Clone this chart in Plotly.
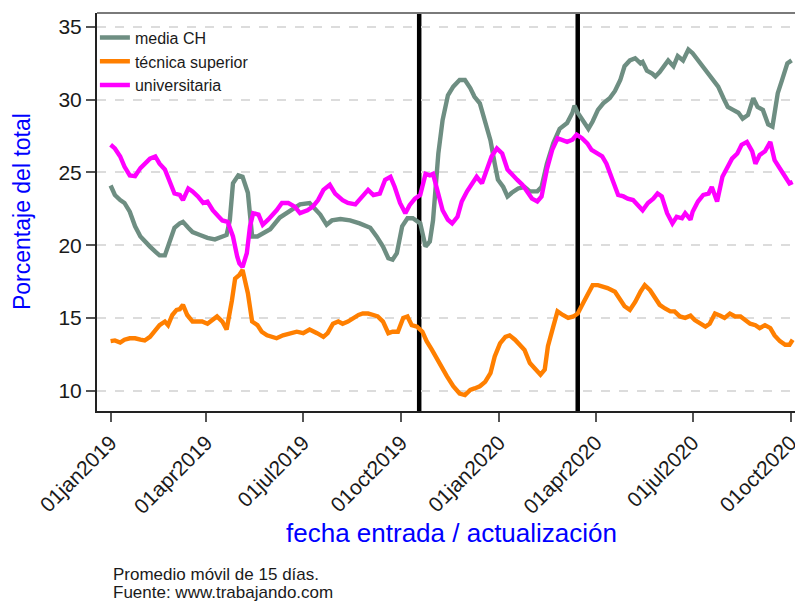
import pandas as pd
import plotly.graph_objects as go

# ---- data ----
base_date = "2019-01-01"

days_media = [0,4,9,13,18,23,28,32,37,42,46,51,56,60,65,68,73,77,84,91,98,105,109,112,115,120,124,129,133,138,
              143,150,159,169,178,187,192,197,203,208,216,225,234,244,250,256,261,265,269,274,279,284,291,296,300,303,308,312,317,322,
              328,333,338,342,347,352,357,361,364,369,373,377,383,389,394,401,405,410,416,422,429,434,436,439,444,449,453,458,463,469,
              474,479,483,488,493,498,500,504,509,512,516,521,524,529,533,538,543,547,552,557,562,566,571,576,580,585,590,594,599,604,
              608,613,618,622,624,627,631,636,640]
vals_media = [24.1,23.45,23.1,22.9,22.3,21.3,20.6,20.25,19.9,19.55,19.3,19.3,20.4,21.2,21.5,21.6,21.2,20.9,20.7,20.5,
              20.4,20.6,20.7,21.7,24.25,24.8,24.7,23.6,20.6,20.6,20.8,21.1,21.9,22.4,22.8,22.9,22.5,22.1,21.4,21.7,
              21.8,21.7,21.5,21.2,20.6,19.9,19.1,19.0,19.45,21.3,21.85,21.85,21.5,19.9,20.25,21.7,26.3,28.6,30.3,30.9,
              31.35,31.35,30.8,30.2,29.75,28.4,27.2,25.6,24.5,24.0,23.35,23.6,23.9,24.0,23.7,23.7,24.0,25.6,27.0,28.0,
              28.4,29.1,29.6,29.1,28.6,28.0,28.5,29.3,29.75,30.1,30.6,31.35,32.3,32.7,32.85,32.5,32.6,32.0,31.8,31.6,
              31.9,32.4,32.7,32.3,33.0,32.7,33.45,33.2,32.7,32.3,31.7,31.35,30.9,30.1,29.5,29.3,29.1,28.7,28.95,30.1,
              29.5,29.3,28.3,28.15,29.1,30.45,31.35,32.5,32.7]

days_tec = [0,4,9,13,18,23,28,32,37,42,46,51,54,58,62,65,68,72,77,81,86,91,95,100,105,109,114,117,121,124,
            129,133,138,142,147,153,156,162,169,175,181,187,194,200,204,209,214,218,223,228,233,237,242,247,251,256,261,265,270,275,
            279,283,288,293,297,302,307,311,316,322,328,333,338,342,347,352,357,361,366,371,375,380,385,389,394,399,404,408,411,416,
            420,425,430,435,439,444,449,453,458,463,467,474,479,483,488,493,498,502,507,512,516,521,526,530,535,540,545,549,554,559,
            563,568,573,577,582,587,592,596,601,606,610,615,620,624,629,634,638,641]
vals_tec = [13.4,13.45,13.3,13.5,13.6,13.6,13.5,13.45,13.7,14.2,14.5,14.75,14.5,15.2,15.55,15.6,15.9,15.2,14.75,14.75,
            14.75,14.6,14.85,15.1,14.75,14.2,16.2,17.7,17.95,18.3,16.7,14.75,14.5,14.05,13.8,13.7,13.6,13.8,13.95,14.05,
            13.95,14.2,13.95,13.7,13.95,14.6,14.75,14.6,14.75,15.0,15.2,15.3,15.3,15.2,15.1,14.75,13.95,14.05,14.05,15.0,
            15.1,14.5,14.4,14.05,13.4,12.8,12.1,11.65,11.0,10.3,9.8,9.7,10.05,10.15,10.3,10.6,11.2,12.35,13.25,13.7,
            13.8,13.5,13.15,12.8,11.9,11.55,11.1,11.45,13.05,14.4,15.45,15.2,15.0,15.1,15.3,16.0,16.7,17.25,17.25,17.15,
            17.05,16.8,16.25,15.8,15.55,16.1,16.8,17.25,16.9,16.35,15.9,15.65,15.45,15.45,15.1,15.0,15.15,14.85,14.6,14.4,
            14.6,15.3,15.15,15.0,15.3,15.1,15.1,14.85,14.6,14.5,14.3,14.5,14.3,13.8,13.4,13.15,13.15,13.5]

days_uni = [0,4,9,13,18,23,28,32,37,42,46,51,56,60,65,68,73,77,82,87,91,96,101,105,110,115,119,121,124,128,
            131,134,139,143,148,153,156,161,167,173,178,185,190,195,200,206,211,218,223,230,236,242,247,253,258,263,267,272,277,281,
            286,291,296,300,303,308,312,317,321,326,330,335,340,344,349,354,358,363,368,373,377,382,387,391,396,401,405,410,415,420,
            424,429,434,438,443,448,452,457,462,466,471,474,477,482,486,491,496,500,505,510,514,518,523,528,532,537,540,545,547,552,
            557,562,565,570,575,579,584,589,593,598,603,606,610,615,620,624,629,634,638,641]
vals_uni = [26.9,26.65,26.1,25.4,24.8,24.75,25.3,25.6,25.95,26.1,25.6,25.2,24.25,23.55,23.45,23.1,23.9,23.7,23.35,22.9,
            23.0,22.4,22.0,21.7,21.6,20.6,19.2,18.75,18.5,19.45,21.3,22.2,22.1,21.4,21.75,22.1,22.4,22.9,22.9,22.65,
            22.2,22.4,22.65,23.1,23.8,24.15,23.55,23.1,22.9,22.8,23.35,23.8,23.45,23.55,24.5,24.7,24.0,22.9,22.2,22.75,
            23.2,23.45,24.9,24.8,24.9,23.55,22.4,21.75,21.5,21.95,23.0,23.7,24.25,24.7,24.25,25.2,26.1,26.65,26.3,25.2,
            24.85,24.5,24.15,23.7,23.2,23.0,23.35,25.2,26.55,27.35,27.25,27.1,27.25,27.6,27.35,27.0,26.55,26.3,26.1,25.6,
            24.7,24.0,23.45,23.35,23.2,23.1,22.75,22.4,22.9,23.2,23.55,23.35,22.2,21.5,21.95,21.85,22.2,21.75,22.3,23.0,
            23.45,23.55,24.0,23.0,24.7,25.2,25.95,26.3,26.9,27.1,26.45,25.6,26.2,26.45,27.1,25.85,25.2,24.7,24.25,24.35]

series_names = ["media CH", "técnica superior", "universitaria"]
series_colors = ["#6e8e82", "#ff7f00", "#ff00ff"]

tick_dates = ["2019-01-01", "2019-04-01", "2019-07-01", "2019-10-01",
              "2020-01-01", "2020-04-01", "2020-07-01", "2020-10-01"]
tick_labels = ["01jan2019", "01apr2019", "01jul2019", "01oct2019",
               "01jan2020", "01apr2020", "01jul2020", "01oct2020"]
event_dates = ["2019-10-18", "2020-03-15"]
y_ticks = [10, 15, 20, 25, 30, 35]

# ---- figure ----
base = pd.Timestamp(base_date)


def to_dates(days):
    return [base + pd.Timedelta(days=d) for d in days]


fig = go.Figure()
for name, days, vals, color in zip(series_names,
                                   [days_media, days_tec, days_uni],
                                   [vals_media, vals_tec, vals_uni],
                                   series_colors):
    assert len(days) == len(vals)
    fig.add_trace(go.Scatter(x=to_dates(days), y=vals, mode="lines", name=name,
                             line=dict(color=color, width=4.4)))

x_left = (base - pd.Timedelta(hours=12.8 * 24)).strftime("%Y-%m-%d %H:%M")
x_right = (base + pd.Timedelta(hours=643.2 * 24)).strftime("%Y-%m-%d %H:%M")

# white box behind legend hiding the top gridline
fig.add_shape(type="rect", xref="paper", yref="paper", x0=0.003, x1=0.248, y0=0.79, y1=0.999,
              fillcolor="white", line=dict(width=0), layer="between")
for d in event_dates:
    fig.add_shape(type="line", xref="x", yref="paper", x0=d, x1=d, y0=0, y1=1,
                  line=dict(color="black", width=4.5), layer="between")
# top border
fig.add_shape(type="line", xref="paper", yref="paper", x0=0, x1=1, y0=1, y1=1,
              line=dict(color="#7a7a7a", width=2), layer="above")

fig.update_layout(
    width=795, height=601,
    margin=dict(l=97, r=0, t=13, b=190, autoexpand=False),
    paper_bgcolor="white", plot_bgcolor="white",
    font=dict(family="Liberation Sans, Arial, sans-serif", color="#1a1a1a"),
    showlegend=True,
    legend=dict(x=-0.003, y=0.981, xanchor="left", yanchor="top",
                bgcolor="rgba(0,0,0,0)", font=dict(size=16, color="#1a1a1a"),
                itemwidth=30, tracegroupgap=0),
    xaxis=dict(range=[x_left, x_right], tickmode="array", tickvals=tick_dates, ticktext=tick_labels,
               tickangle=-45, ticks="outside", ticklen=9, tickwidth=1.5, tickcolor="#555",
               showline=True, linecolor="#222", linewidth=2, showgrid=False, zeroline=False,
               ticklabeloverflow="allow",
               tickfont=dict(size=21, color="#1a1a1a")),
    yaxis=dict(range=[8.6, 35.96], tickmode="array", tickvals=y_ticks,
               ticks="outside", ticklen=9, tickwidth=1.5, tickcolor="#555",
               showline=True, linecolor="#222", linewidth=2, zeroline=False,
               showgrid=True, gridcolor="#dcdcdc", gridwidth=1.5, griddash="dash",
               tickfont=dict(size=21, color="#1a1a1a")),
    annotations=[
        dict(text="Porcentaje del total", xref="paper", yref="paper", x=-0.1074, y=0.5,
             xanchor="center", yanchor="middle", textangle=-90, showarrow=False,
             font=dict(size=23, color="#0000ff")),
        dict(text="fecha entrada / actualización", xref="paper", yref="paper", x=0.508, y=-0.307,
             xanchor="center", yanchor="middle", showarrow=False,
             font=dict(size=26, color="#0000ff")),
        dict(text="Promedio móvil de 15 días.", xref="paper", yref="paper", x=0.02, y=-0.41,
             xanchor="left", yanchor="middle", showarrow=False,
             font=dict(size=17, color="#1a1a1a")),
        dict(text="Fuente: www.trabajando.com", xref="paper", yref="paper", x=0.02, y=-0.455,
             xanchor="left", yanchor="middle", showarrow=False,
             font=dict(size=17, color="#1a1a1a")),
    ],
)

fig.write_html("out.html", config={"displayModeBar": False},
               post_script="document.body.style.margin='0';document.body.style.overflow='hidden';")
